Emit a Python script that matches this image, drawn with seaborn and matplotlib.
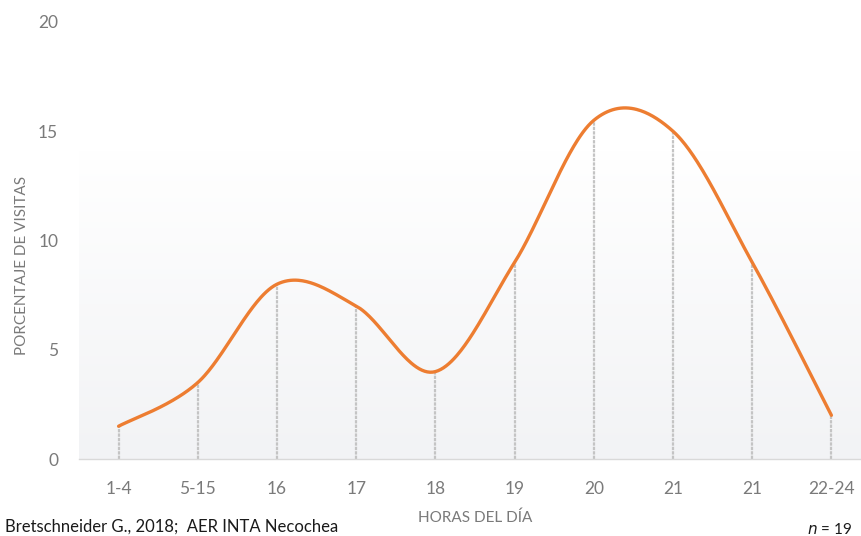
import numpy as np
import pandas as pd
import matplotlib
matplotlib.use("Agg")
import matplotlib.pyplot as plt
import seaborn as sns

# Datos: porcentaje de visitas por franja horaria
categorias = ["1-4", "5-15", "16", "17", "18", "19", "20", "21", "21", "22-24"]
porcentaje = [1.5, 3.5, 8, 7, 4, 9, 15.5, 15, 9, 2]
ticks_y = [0, 5, 10, 15, 20]

sns.set_theme(style="white")
plt.rcParams["font.family"] = ["Lato", "DejaVu Sans"]

LINE = "#ED7D31"
GRAY_TXT = "#7a7a7a"


def suavizar(xs, ys, n=60):
    """Curva suavizada tipo Bezier (Catmull-Rom) que pasa por cada punto."""
    P = np.column_stack([xs, ys]).astype(float)
    m = len(P)
    out = []
    t = np.linspace(0, 1, n)[:, None]
    for i in range(m - 1):
        p0 = P[i]
        p3 = P[i + 1]
        prev = P[i - 1] if i > 0 else P[i]
        nxt = P[i + 2] if i + 2 < m else P[i + 1]
        c1 = p0 + (p3 - prev) / 6.0
        c2 = p3 - (nxt - p0) / 6.0
        seg = ((1 - t) ** 3) * p0 + 3 * ((1 - t) ** 2) * t * c1 + 3 * (1 - t) * t ** 2 * c2 + t ** 3 * p3
        out.append(seg if i == 0 else seg[1:])
    return np.vstack(out)


W, H = 862, 536
fig = plt.figure(figsize=(W / 100, H / 100), dpi=100)
ax_left, ax_right, ax_top, ax_bottom = 79, 871, 22, 459
ax = fig.add_axes([ax_left / W, 1 - ax_bottom / H, (ax_right - ax_left) / W, (ax_bottom - ax_top) / H])

x = np.arange(len(categorias))
ax.set_xlim(-0.5, len(categorias) - 0.5)
ax.set_ylim(0, 20)

# Fondo del área de trazado: degradado de blanco a gris claro
grad = np.linspace(0, 1, 256)[:, None]
top_c = np.array([255, 255, 255]) / 255
bot_c = np.array([242, 243, 245]) / 255
img = top_c[None, None, :] * (1 - grad[:, :, None]) + bot_c[None, None, :] * grad[:, :, None]
ax.imshow(img, extent=(-0.5, len(categorias) - 0.5, 0, 14.1), aspect="auto",
          origin="upper", zorder=0, interpolation="bilinear")

# Líneas de proyección desde cada punto hasta el eje
ax.vlines(x, 0, porcentaje, colors="#c4c4c4", linewidth=1.6,
          linestyles=(0, (1.5, 0.5)), zorder=1)

# Curva suavizada
curva = suavizar(x, porcentaje)
df = pd.DataFrame({"x": curva[:, 0], "y": curva[:, 1]})
sns.lineplot(data=df, x="x", y="y", ax=ax, color=LINE, linewidth=2.4,
             sort=False, estimator=None, zorder=3)

ax.set_xticks(x)
ax.set_xticklabels(categorias)
ax.set_yticks(ticks_y)
ax.set_yticklabels([str(v) for v in ticks_y])
ax.tick_params(axis="x", length=0, pad=16, labelsize=12.5, labelcolor=GRAY_TXT)
ax.tick_params(axis="y", length=0, pad=15, labelsize=12.5, labelcolor=GRAY_TXT)
ax.set_xlabel("")
ax.set_ylabel("")

for side in ["top", "right", "left"]:
    ax.spines[side].set_visible(False)
ax.spines["bottom"].set_color("#d9d9d9")
ax.spines["bottom"].set_linewidth(1.0)
ax.spines["bottom"].set_zorder(2)
ax.grid(False)
ax.set_facecolor("none")

fig.text(22 / W, 1 - 265 / H, "PORCENTAJE DE VISITAS", rotation=90,
         ha="center", va="center", fontsize=11, color=GRAY_TXT)
fig.text(475 / W, 1 - 518 / H, "HORAS DEL DÍA", ha="center", va="center",
         fontsize=11, color=GRAY_TXT)
fig.text(5 / W, 1 - 527 / H, "Bretschneider G., 2018;  AER INTA Necochea",
         ha="left", va="center", fontsize=12, color="#1a1a1a")
fig.text(852 / W, 1 - 530 / H, r"$\it{n}$ = 19", ha="right", va="center",
         fontsize=11, color="#1a1a1a")

fig.savefig("out.png", dpi=100)
